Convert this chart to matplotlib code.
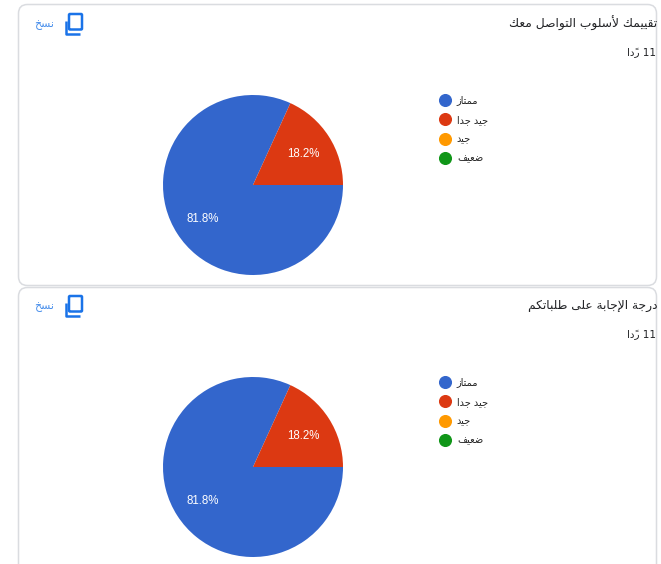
#!/usr/bin/env python3
import matplotlib
matplotlib.use('Agg')
import matplotlib.pyplot as plt
from matplotlib.lines import Line2D
from matplotlib.patches import FancyBboxPatch

titles = ['تقييمك لأسلوب التواصل معك', 'درجة الإجابة على طلباتكم']
categories = ['ممتاز', 'جيد جدا', 'جيد', 'ضعيف']
values_top = [9, 2, 0, 0]
values_bottom = [9, 2, 0, 0]
responses_word = 'ردًا'
responses_count = 11
copy_word = 'نسخ'
colors = ['#3366cc', '#dc3912', '#ff9900', '#109618']

W, H = 661, 564

# isolated glyph code of each letter, the other forms follow it in the block
BASE = {'ا': 0xFE8D, 'أ': 0xFE83, 'إ': 0xFE87, 'ب': 0xFE8F, 'ة': 0xFE93, 'ت': 0xFE95,
        'ج': 0xFE9D, 'خ': 0xFEA5, 'د': 0xFEA9, 'ذ': 0xFEAB, 'ر': 0xFEAD, 'ز': 0xFEAF,
        'س': 0xFEB1, 'ص': 0xFEB9, 'ض': 0xFEBD, 'ط': 0xFEC1, 'ع': 0xFEC9, 'ف': 0xFED1,
        'ق': 0xFED5, 'ك': 0xFED9, 'ل': 0xFEDD, 'م': 0xFEE1, 'ن': 0xFEE5, 'و': 0xFEED,
        'ى': 0xFEEF, 'ي': 0xFEF1}
RIGHT_ONLY = 'اأإةدذرزوى'
LAM_ALEF = {'ا': 0xFEFB, 'أ': 0xFEF7, 'إ': 0xFEF9}
MARK = '\u064b'


def shape(text):
    # no raqm in matplotlib, so pick the joined forms by hand and lay out right to left
    letters = []
    for c in text:
        if c == MARK:
            letters[-1][1] = c
        elif c in LAM_ALEF and letters and letters[-1][0] == 'ل':
            letters[-1][0] = 'ل' + c
        else:
            letters.append([c, ''])
    out = []
    for i, (c, mark) in enumerate(letters):
        prev = letters[i - 1][0] if i > 0 else ' '
        nxt = letters[i + 1][0] if i < len(letters) - 1 else ' '
        joins_prev = prev[-1] in BASE and prev[-1] not in RIGHT_ONLY and len(prev) == 1
        joins_next = c in BASE and c not in RIGHT_ONLY and nxt[0] in BASE
        if len(c) == 2:
            g = chr(LAM_ALEF[c[1]] + (1 if joins_prev else 0))
        elif c in BASE:
            if joins_prev and joins_next:
                form = 3
            elif joins_next:
                form = 2
            elif joins_prev:
                form = 1
            else:
                form = 0
            g = chr(BASE[c] + form)
        else:
            g = c
        out.append(g + mark)
    return ''.join(reversed(out))


fig = plt.figure(figsize=(W / 100, H / 100), dpi=100)
bg = fig.add_axes([0, 0, 1, 1])
bg.set_xlim(0, W)
bg.set_ylim(H, 0)
bg.axis('off')

cards = [(4.5, 281), (287.5, 300)]
for top, h in cards:
    bg.add_patch(FancyBboxPatch((18.5, top), 638, h, boxstyle='round,pad=0,rounding_size=9',
                                fc='white', ec='#dadce0', lw=1.1, clip_on=True))

for i, (title, vals) in enumerate(zip(titles, [values_top, values_bottom])):
    dy = 282 * i
    bg.text(657, 23.5 + dy, shape(title), ha='right', va='center', fontsize=8.8,
            color='#202124', family='DejaVu Sans')
    bg.text(656, 52.5 + dy, shape(responses_word) + ' ' + str(responses_count), ha='right',
            va='center', fontsize=7.5, color='#202124', family='DejaVu Sans')
    bg.text(54, 25 + dy, shape(copy_word), ha='right', va='center', fontsize=7.8,
            color='#4a90ec', family='DejaVu Sans')

    # copy icon
    bg.add_patch(FancyBboxPatch((69, 14 + dy), 13, 15.5, boxstyle='round,pad=0,rounding_size=1',
                                fc='none', ec='#1a73e8', lw=1.8))
    bg.plot([65.5, 65.5, 80], [21 + dy, 33.5 + dy, 33.5 + dy], color='#1a73e8', lw=1.8,
            solid_capstyle='butt')

    # pie, 180px across
    ax = fig.add_axes([163 / W, 1 - (275 + dy) / H, 180 / W, 180 / H])
    wedges, _, autotexts = ax.pie(vals, colors=colors, startangle=0, counterclock=False,
                                  autopct=lambda p: '%.1f%%' % p if p > 0 else '',
                                  pctdistance=0.67,
                                  textprops={'color': 'white', 'fontsize': 8.3,
                                             'family': 'Liberation Sans'})
    ax.set_xlim(-1, 1)
    ax.set_ylim(-1, 1)
    for t in autotexts:
        x, y = t.get_position()
        t.set_position((x, y - 0.015))

    handles = [Line2D([], [], ls='none', marker='o', ms=8.4, mfc=c, mec=c) for c in colors]
    ax.legend(handles, [shape(c) for c in categories], loc='upper left',
              bbox_to_anchor=(440 / W, 1 - (95.5 + dy) / H), bbox_transform=fig.transFigure,
              frameon=False, prop={'family': 'DejaVu Sans', 'size': 7}, handlelength=1.0,
              handletextpad=0.74, labelspacing=0.96, borderpad=0, borderaxespad=0,
              labelcolor='#222222')

fig.savefig('out.png', dpi=100)
